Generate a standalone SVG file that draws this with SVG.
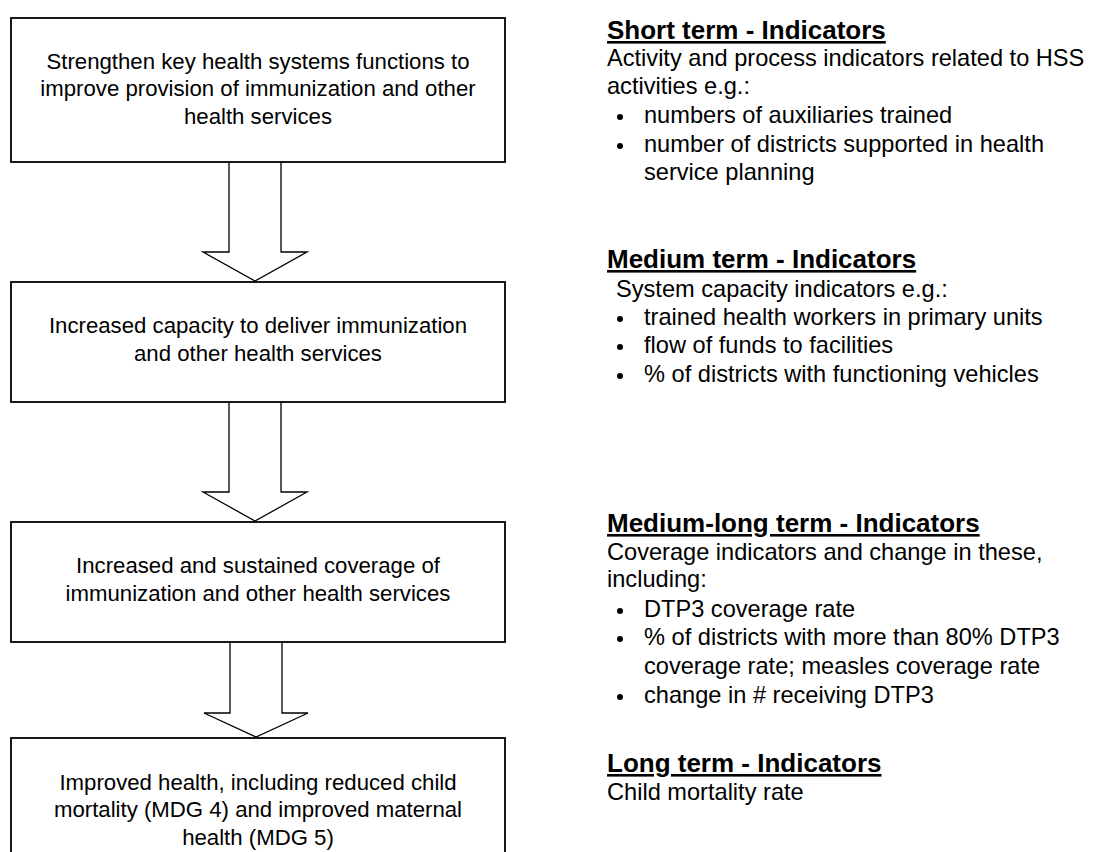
<svg xmlns="http://www.w3.org/2000/svg" width="1095" height="852" viewBox="0 0 1095 852">
<style>
.box{fill:#fff;stroke:#000;stroke-width:1.8}
.arr{fill:#fff;stroke:#000;stroke-width:1.3;stroke-linejoin:miter}
.bt{font-family:"Liberation Sans",Arial,sans-serif;font-size:22.2px;fill:#000;text-anchor:middle}
.rt{font-family:"Liberation Sans",Arial,sans-serif;font-size:23.6px;fill:#000}
.hd{font-family:"Liberation Sans",Arial,sans-serif;font-size:26px;font-weight:bold;fill:#000;text-decoration:underline}
.bl{fill:#000}
</style>
<rect width="1095" height="852" fill="#fff"/>
<g id="connectors">
<path class="arr" d="M229,162 V252 H203 L255,281 L307,252 H281 V162"/>
<path class="arr" d="M229,402 V492 H203 L255,521 L307,492 H281 V402"/>
<path class="arr" d="M230,642 V713 H204 L256,737 L308,713 H282 V642"/>
</g>
<g id="box1">
<rect class="box" x="11" y="18" width="494" height="144"/>
<text class="bt" x="258" y="69">Strengthen key health systems functions to</text>
<text class="bt" x="258" y="96">improve provision of immunization and other</text>
<text class="bt" x="258" y="124">health services</text>
</g>
<g id="box2">
<rect class="box" x="11" y="282" width="494" height="120"/>
<text class="bt" x="258" y="333">Increased capacity to deliver immunization</text>
<text class="bt" x="258" y="361">and other health services</text>
</g>
<g id="box3">
<rect class="box" x="11" y="522" width="494" height="120"/>
<text class="bt" x="258" y="573">Increased and sustained coverage of</text>
<text class="bt" x="258" y="601">immunization and other health services</text>
</g>
<g id="box4">
<rect class="box" x="11" y="738" width="494" height="130"/>
<text class="bt" x="258" y="790">Improved health, including reduced child</text>
<text class="bt" x="258" y="817">mortality (MDG 4) and improved maternal</text>
<text class="bt" x="258" y="845">health (MDG 5)</text>
</g>
<g id="short-term">
<text class="hd" x="607" y="39">Short term - Indicators</text>
<text class="rt" x="607" y="66">Activity and process indicators related to HSS</text>
<text class="rt" x="607" y="94">activities e.g.:</text>
<circle class="bl" cx="620" cy="117" r="3"/>
<text class="rt" x="644" y="123">numbers of auxiliaries trained</text>
<circle class="bl" cx="620" cy="146" r="3"/>
<text class="rt" x="644" y="152">number of districts supported in health</text>
<text class="rt" x="644" y="180">service planning</text>
</g>
<g id="medium-term">
<text class="hd" x="607" y="268">Medium term - Indicators</text>
<text class="rt" x="616" y="297">System capacity indicators e.g.:</text>
<circle class="bl" cx="620" cy="319" r="3"/>
<text class="rt" x="644" y="325">trained health workers in primary units</text>
<circle class="bl" cx="620" cy="347" r="3"/>
<text class="rt" x="644" y="353">flow of funds to facilities</text>
<circle class="bl" cx="620" cy="376" r="3"/>
<text class="rt" x="644" y="382">% of districts with functioning vehicles</text>
</g>
<g id="medium-long-term">
<text class="hd" x="607" y="532">Medium-long term - Indicators</text>
<text class="rt" x="607" y="560">Coverage indicators and change in these,</text>
<text class="rt" x="607" y="587">including:</text>
<circle class="bl" cx="620" cy="611" r="3"/>
<text class="rt" x="644" y="617">DTP3 coverage rate</text>
<circle class="bl" cx="620" cy="639" r="3"/>
<text class="rt" x="644" y="645">% of districts with more than 80% DTP3</text>
<text class="rt" x="644" y="674">coverage rate; measles coverage rate</text>
<circle class="bl" cx="620" cy="697" r="3"/>
<text class="rt" x="644" y="703">change in # receiving DTP3</text>
</g>
<g id="long-term">
<text class="hd" x="607" y="772">Long term - Indicators</text>
<text class="rt" x="607" y="800">Child mortality rate</text>
</g>
</svg>
